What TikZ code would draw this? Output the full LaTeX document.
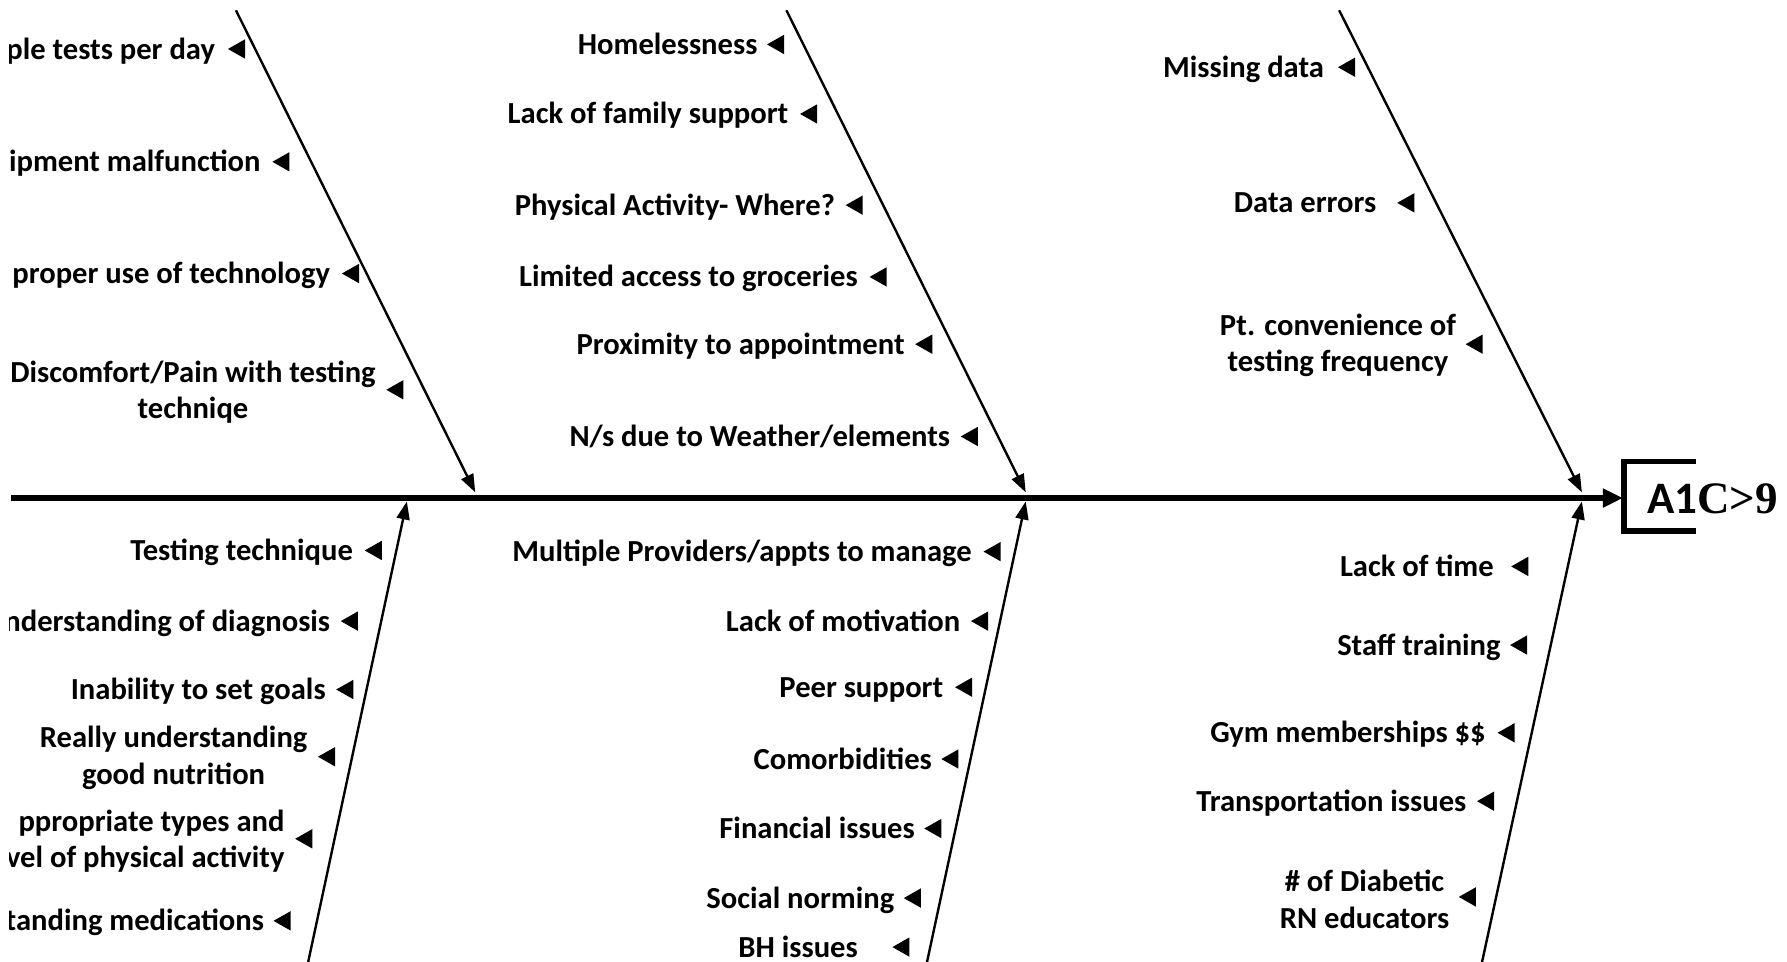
\documentclass[tikz,border=0pt]{standalone}
\usepackage{fontspec}
\newfontfamily\carlito{Carlito}
\newfontfamily\timesbold{Liberation Serif}
\usetikzlibrary{arrows.meta}
\tikzset{
  causetext/.style={font=\carlito\bfseries\fontsize{15.3}{18.4}\selectfont, anchor=east, align=center, inner sep=0pt},
  cause/.style={causetext, text height=10pt, text depth=0pt},
  cause2/.style={causetext},
  bone/.style={line width=1.2pt, -{Triangle[length=9pt,width=6.5pt]}},
  spine/.style={line width=3pt, -{Triangle[length=10pt,width=9pt]}},
  tri/.pic={\fill (-8,0) -- (7,-8.5) -- (7,8.5) -- cycle;}
}

\begin{document}
\begin{tikzpicture}[x=0.56985pt, y=-0.56985pt]
        \useasboundingbox (0,0) rectangle (1568,844);
        \clip (8,9) rectangle (1568,844);

        \coordinate (tail) at (10,437);
        \coordinate (head) at (1424,437);
        \draw[spine] (tail) -- (head);

        \draw[line width=2.6pt] (1488,405) -- (1425,405) -- (1425,466) -- (1488,466);
        \node[anchor=base west, inner sep=0pt, font=\fontsize{22.5}{24}\selectfont\bfseries] (effect) at (1445,451) {{\carlito A1}{\timesbold C>9}};

        \coordinate (b1top) at (207,9);
        \coordinate (b1end) at (417,432);
        \coordinate (b2top) at (690,9);
        \coordinate (b2end) at (900,432);
        \coordinate (b3top) at (1175,9);
        \coordinate (b3end) at (1388,432);
        \coordinate (b4low) at (270,846);
        \coordinate (b4end) at (357,440);
        \coordinate (b5low) at (813,846);
        \coordinate (b5end) at (900,440);
        \coordinate (b6low) at (1300,846);
        \coordinate (b6end) at (1388,440);

        \draw[bone] (b1top) -- (b1end);
        \draw[bone] (b2top) -- (b2end);
        \draw[bone] (b3top) -- (b3end);
        \draw[bone] (b4low) -- (b4end);
        \draw[bone] (b5low) -- (b5end);
        \draw[bone] (b6low) -- (b6end);

        \node[cause] (tests) at (189,43) {ple tests per day};
        \pic at (208,43) {tri};
        \node[cause] (malfunction) at (229,142) {ipment malfunction};
        \pic at (247,142) {tri};
        \node[cause] (technology) at (290,240) {proper use of technology};
        \pic at (308,240) {tri};
        \node[cause2] (discomfort) at (330,344) {Discomfort/Pain with testing\\techniqe};
        \pic at (347,342) {tri};

        \node[cause] (technique) at (310,483) {Testing technique};
        \pic at (328,483) {tri};
        \node[cause] (diagnosis) at (290,545) {nderstanding of diagnosis};
        \pic at (307,545) {tri};
        \node[cause] (goals) at (286,605) {Inability to set goals};
        \pic at (303,605) {tri};
        \node[cause2] (nutrition) at (270,665) {Really understanding\\good nutrition};
        \pic at (287,664) {tri};
        \node[cause2, align=right] (activity) at (250,738) {ppropriate types and\\vel of physical activity};
        \pic at (267,736) {tri};
        \node[cause] (medications) at (232,808) {tanding medications};
        \pic at (248,808) {tri};

        \node[cause] (homeless) at (665,39) {Homelessness};
        \pic at (681,39) {tri};
        \node[cause] (family) at (692,100) {Lack of family support};
        \pic at (710,100) {tri};
        \node[cause] (where) at (733,180) {Physical Activity- Where?};
        \pic at (750,180) {tri};
        \node[cause] (groceries) at (753,243) {Limited access to groceries};
        \pic at (771,243) {tri};
        \node[cause] (proximity) at (794,302) {Proximity to appointment};
        \pic at (811,302) {tri};
        \node[cause] (weather) at (834,383) {N/s due to Weather/elements};
        \pic at (851,383) {tri};

        \node[cause] (providers) at (853,484) {Multiple Providers/appts to manage};
        \pic at (871,484) {tri};
        \node[cause] (motivation) at (843,545) {Lack of motivation};
        \pic at (860,545) {tri};
        \node[cause] (peer) at (828,603) {Peer support};
        \pic at (846,603) {tri};
        \node[cause] (comorbid) at (818,666) {Comorbidities};
        \pic at (834,666) {tri};
        \node[cause] (financial) at (803,727) {Financial issues};
        \pic at (819,727) {tri};
        \node[cause] (norming) at (785,788) {Social norming};
        \pic at (801,788) {tri};
        \node[cause] (bh) at (753,831) {BH issues};
        \pic at (791,831) {tri};

        \node[cause] (missing) at (1162,59) {Missing data};
        \pic at (1182,59) {tri};
        \node[cause] (errors) at (1208,178) {Data errors};
        \pic at (1234,178) {tri};
        \node[cause2] (convenience) at (1278,303) {Pt. convenience of\\testing frequency};
        \pic at (1294,302) {tri};

        \node[cause] (time) at (1311,497) {Lack of time};
        \pic at (1334,497) {tri};
        \node[cause] (training) at (1317,566) {Staff training};
        \pic at (1333,566) {tri};
        \node[cause] (gym) at (1304,643) {Gym memberships \$\$};
        \pic at (1322,643) {tri};
        \node[cause] (transport) at (1287,703) {Transportation issues};
        \pic at (1304,703) {tri};
        \node[cause2] (educators) at (1272,789) {\# of Diabetic\\RN educators};
        \pic at (1288,787) {tri};
    \end{tikzpicture}
\end{document}
